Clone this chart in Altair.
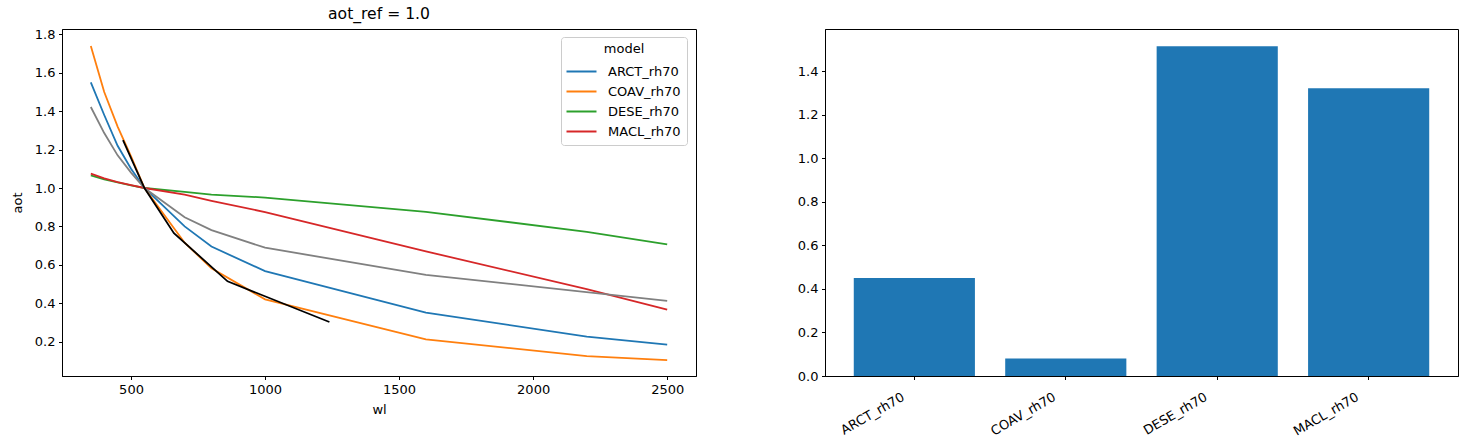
import altair as alt
import pandas as pd

# ---------------- data ----------------
models = ["ARCT_rh70", "COAV_rh70", "DESE_rh70", "MACL_rh70"]
model_colors = ["#1f77b4", "#ff7f0e", "#2ca02c", "#d62728"]

wl_model = [350, 400, 450, 500, 550, 700, 800, 1000, 1600, 2200, 2500]
aot_arct = [1.55, 1.38, 1.22, 1.10, 1.00, 0.80, 0.695, 0.567, 0.351, 0.226, 0.184]
aot_coav = [1.74, 1.50, 1.32, 1.165, 1.00, 0.715, 0.582, 0.42, 0.212, 0.125, 0.104]
aot_dese = [1.066, 1.045, 1.029, 1.014, 1.00, 0.98, 0.966, 0.95, 0.876, 0.772, 0.707]
aot_macl = [1.075, 1.05, 1.031, 1.015, 1.00, 0.965, 0.933, 0.875, 0.67, 0.473, 0.367]

wl_mix = [350, 400, 450, 500, 550, 700, 800, 1000, 1600, 2500]
aot_mix = [1.422, 1.286, 1.17, 1.08, 1.00, 0.848, 0.781, 0.689, 0.548, 0.412]

wl_obs = [470, 550, 660, 860, 1240]
aot_obs = [1.249, 1.00, 0.765, 0.514, 0.302]

bar_values = [0.45, 0.08, 1.515, 1.322]

x_ticks = [500, 1000, 1500, 2000, 2500]
y_ticks_left = [0.2, 0.4, 0.6, 0.8, 1.0, 1.2, 1.4, 1.6, 1.8]
y_ticks_right = [0.0, 0.2, 0.4, 0.6, 0.8, 1.0, 1.2, 1.4]

# ---------------- tables ----------------
rows = []
for m, vals in zip(models, [aot_arct, aot_coav, aot_dese, aot_macl]):
    for w, v in zip(wl_model, vals):
        rows.append({"model": m, "wl": w, "aot": v})
df_models = pd.DataFrame(rows)
df_mix = pd.DataFrame({"wl": wl_mix, "aot": aot_mix})
df_obs = pd.DataFrame({"wl": wl_obs, "aot": aot_obs})
df_bar = pd.DataFrame({"model": models, "value": bar_values})

FONT = "DejaVu Sans"

xscale = alt.Scale(domain=[242.5, 2607.5], nice=False, zero=False)
yscale = alt.Scale(domain=[0.021, 1.828], nice=False, zero=False)
xaxis = alt.Axis(title="wl", values=x_ticks, format="d", titlePadding=7)
yaxis = alt.Axis(title="aot", values=y_ticks_left, format=".1f", titlePadding=10)

lines = alt.Chart(df_models).mark_line(strokeWidth=1.8).encode(
    x=alt.X("wl:Q", scale=xscale, axis=xaxis),
    y=alt.Y("aot:Q", scale=yscale, axis=yaxis),
    color=alt.Color(
        "model:N",
        scale=alt.Scale(domain=models, range=model_colors),
        legend=alt.Legend(
            title="model",
            orient="none",
            legendX=499,
            legendY=8,
            strokeColor="#cccccc",
            fillColor="white",
            cornerRadius=3,
            padding=6,
            symbolType="M-1.4,0H4.6",
            symbolSize=100,
            symbolStrokeWidth=2,
            labelFontSize=13,
            labelFont=FONT,
            titleFont=FONT,
            titleFontSize=13,
            titleFontWeight="normal",
            titleAnchor="middle",
            titlePadding=9,
            labelOffset=28,
            rowPadding=6,
        ),
    ),
)

mix = alt.Chart(df_mix).mark_line(color="#808080", strokeWidth=1.8).encode(
    x=alt.X("wl:Q", scale=xscale, axis=xaxis),
    y=alt.Y("aot:Q", scale=yscale, axis=yaxis),
)
obs = alt.Chart(df_obs).mark_line(color="#000000", strokeWidth=1.8).encode(
    x=alt.X("wl:Q", scale=xscale, axis=xaxis),
    y=alt.Y("aot:Q", scale=yscale, axis=yaxis),
)

left = alt.layer(lines, mix, obs).properties(
    width=634,
    height=347,
    title=alt.TitleParams(
        "aot_ref = 1.0", font=FONT, fontSize=15.6, fontWeight="normal",
        anchor="middle", color="black", offset=6,
    ),
)

bars = alt.Chart(df_bar).mark_bar(color="#1f77b4").encode(
    x=alt.X(
        "model:N",
        sort=models,
        scale=alt.Scale(paddingInner=0.2, paddingOuter=0.19),
        axis=alt.Axis(
            title=None, labelAngle=330, labelAlign="right", labelBaseline="top",
            labelOffset=-14, labelPadding=11,
        ),
    ),
    y=alt.Y(
        "value:Q",
        scale=alt.Scale(domain=[0, 1.594], nice=False, zero=True),
        axis=alt.Axis(title=None, values=y_ticks_right, format=".1f"),
    ),
).properties(width=633, height=347)

chart = alt.hconcat(left, bars, spacing=99).properties(
    padding={"left": 10, "top": 6, "right": 5, "bottom": 5}
).configure_view(
    stroke="black", strokeWidth=1
).configure_axis(
    grid=False,
    domainColor="black",
    tickColor="black",
    tickSize=3.5,
    labelPadding=3.5,
    labelFont=FONT,
    labelFontSize=13,
    labelColor="black",
    titleFont=FONT,
    titleFontSize=13,
    titleFontWeight="normal",
    titleColor="black",
)

chart.save("out.html", embed_options={"renderer": "svg", "actions": False})
